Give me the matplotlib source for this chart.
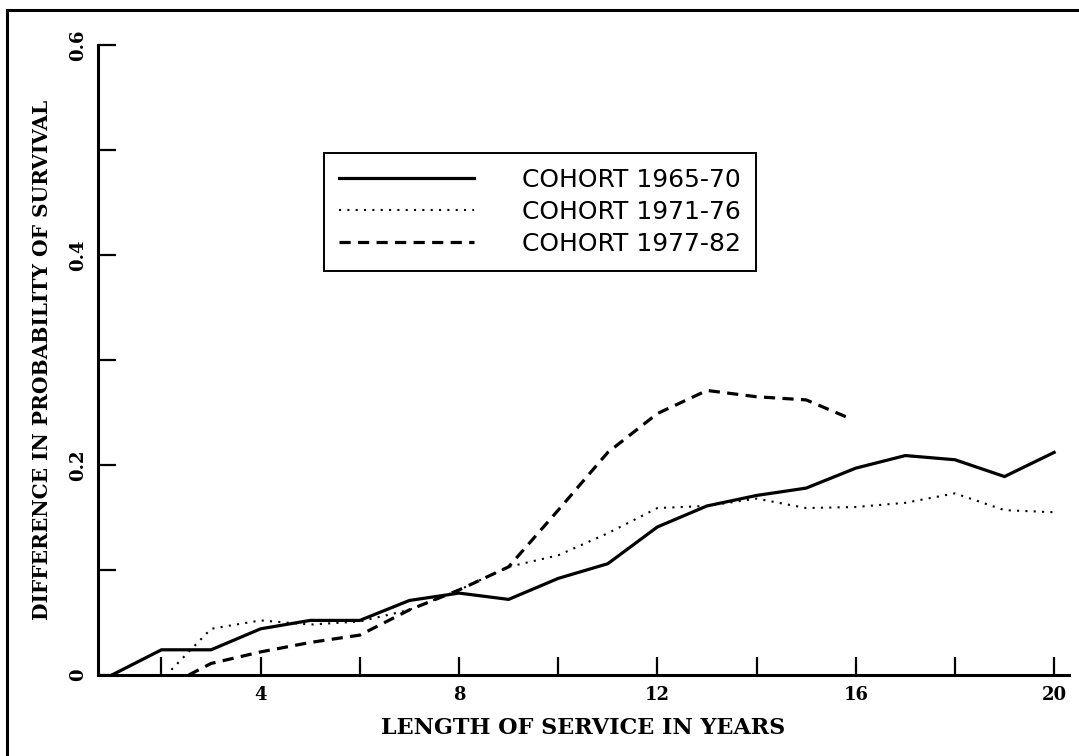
import numpy as np
import matplotlib
matplotlib.use("Agg")
import matplotlib.pyplot as plt
from matplotlib.patches import Rectangle

# values
years_6570 = [1, 2, 3, 4, 5, 6, 7, 8, 9, 10, 11, 12, 13, 14, 15, 16, 17, 18, 19, 20]
diff_6570 = [0.0, 0.024, 0.024, 0.044, 0.052, 0.052, 0.071, 0.078, 0.072, 0.092,
             0.106, 0.141, 0.161, 0.171, 0.178, 0.197, 0.209, 0.205, 0.189, 0.212]

years_7176 = [2.2, 3, 4, 5, 6, 7, 8, 9, 10, 11, 12, 13, 14, 15, 16, 17, 18, 19, 20]
diff_7176 = [0.005, 0.044, 0.052, 0.048, 0.051, 0.062, 0.081, 0.103, 0.114, 0.135,
             0.159, 0.161, 0.168, 0.159, 0.160, 0.164, 0.173, 0.157, 0.155]

years_7782 = [2.55, 3, 4, 5, 6, 7, 8, 9, 10, 11, 12, 13, 14, 15, 15.9]
diff_7782 = [0.0, 0.011, 0.022, 0.031, 0.038, 0.062, 0.081, 0.103, 0.157, 0.212,
             0.249, 0.271, 0.265, 0.262, 0.244]

labels = ["COHORT 1965-70", "COHORT 1971-76", "COHORT 1977-82"]

x_ticks = [2, 4, 6, 8, 10, 12, 14, 16, 18, 20]
x_ticklabels = ["", "4", "", "8", "", "12", "", "16", "", "20"]
y_ticks = [0, 0.1, 0.2, 0.3, 0.4, 0.5, 0.6]
y_ticklabels = ["0", "", "0.2", "", "0.4", "", "0.6"]

W, H = 1079, 756
fig = plt.figure(figsize=(W / 100, H / 100), dpi=100)
ax = fig.add_axes([98 / W, 81 / H, 971 / W, 630 / H])

ax.plot(years_6570, diff_6570, color="black", lw=2.3, ls="-", label=labels[0])
ax.plot(years_7176, diff_7176, color="black", lw=1.5, ls=(0, (1, 3)), label=labels[1])
ax.plot(years_7782, diff_7782, color="black", lw=2.3, ls=(0, (3.5, 2.3)), label=labels[2])

ax.set_xlim(0.72, 20.3)
ax.set_ylim(0, 0.6)

for side in ["top", "right"]:
    ax.spines[side].set_visible(False)
for side in ["left", "bottom"]:
    ax.spines[side].set_linewidth(2.2)

serif_bold = dict(family="DejaVu Serif", weight="bold")

ax.set_xticks(x_ticks)
ax.set_xticklabels(x_ticklabels, fontsize=13, **serif_bold)
ax.set_yticks(y_ticks)
ax.set_yticklabels(y_ticklabels, fontsize=13, rotation=90, va="center", **serif_bold)
ax.tick_params(direction="in", length=13, width=1.6, pad=8)

ax.set_xlabel("LENGTH OF SERVICE IN YEARS", fontsize=16, va="center", **serif_bold)
ax.xaxis.set_label_coords(0.5, -0.084)
ax.set_ylabel("DIFFERENCE IN PROBABILITY OF SURVIVAL", fontsize=14.5, va="center", **serif_bold)
ax.yaxis.set_label_coords(-0.0577, 0.5)

leg = ax.legend(loc="upper left", bbox_to_anchor=(324 / W, 1 - 153 / H),
                bbox_transform=fig.transFigure, borderaxespad=0,
                prop=dict(family="DejaVu Sans", size=18),
                handlelength=5.4, handletextpad=1.9, borderpad=0.6,
                labelspacing=0.32, fancybox=False, framealpha=1)
leg.get_frame().set_edgecolor("black")
leg.get_frame().set_linewidth(1.4)

# page frame of the scanned figure
fig.patches.append(Rectangle((7 / W, -0.1), 1.2, 1.1 - 10 / H, transform=fig.transFigure,
                             fill=False, lw=2.2, ec="black"))

fig.savefig("out.png", dpi=100)
